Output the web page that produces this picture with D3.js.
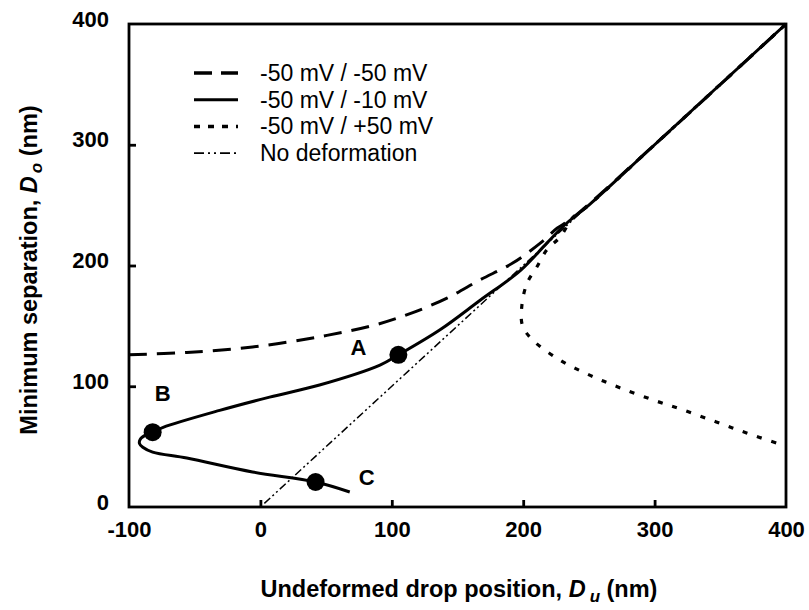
<!DOCTYPE html>
<html>
<head>
<meta charset="utf-8">
<script src="https://cdn.jsdelivr.net/npm/d3@7"></script>
<style>
  body { margin: 0; background: #fff; }
  svg { display: block; font-family: "Liberation Sans", Arial, sans-serif; }
</style>
</head>
<body>
<svg id="chart" width="809" height="610"></svg>
<script>
// Data
var xTicks = [-100, 0, 100, 200, 300, 400];
var yTicks = [0, 100, 200, 300, 400];
var legendNames = ["-50 mV / -50 mV", "-50 mV / -10 mV", "-50 mV / +50 mV", "No deformation"];

// -50 mV / -50 mV (dashed)
var dashedDu = [-100, -56, -6, 45, 88, 116, 142, 167, 192, 213, 226, 236, 300, 400];
var dashedD0 = [126, 128, 132.5, 141, 151, 161, 173, 188, 202, 218.5, 231, 238, 300, 400];

// -50 mV / -10 mV (solid)
var solidDu = [400, 300, 250, 233, 218, 198, 167, 137, 105, 91, 45, 7, -31, -74, -82, -87.5, -91.5, -92, -89.5, -82, -56, -6, 42, 68];
var solidD0 = [400, 300, 250, 235, 218.5, 196, 171, 147, 126, 117.5, 101, 91, 80, 66, 62, 59.5, 56, 52.5, 49.5, 45.5, 40.5, 29, 20.7, 12.4];

// -50 mV / +50 mV (dotted)
var dottedDu = [400, 300, 250, 238, 228, 218, 210.5, 203, 199, 199.5, 207.5, 228, 251, 274, 299, 322, 347, 370, 395, 400];
var dottedD0 = [400, 300, 250, 240, 223.5, 213, 199, 185.5, 167, 150, 138, 121.7, 109, 98.6, 88.6, 80.3, 70.4, 61.3, 52.2, 50.5];

// No deformation (dash-dot-dot)
var noDefDu = [3, 400];
var noDefD0 = [3, 400];

// Marked points A, B, C
var markLabels = ["A", "B", "C"];
var markDu = [105, -82, 42];
var markD0 = [126, 62, 20.7];

var svg = d3.select("#chart");
var mLeft = 129, mRight = 786, mTop = 24, mBottom = 507;

var x = d3.scaleLinear().domain([-100, 400]).range([mLeft, mRight]);
var y = d3.scaleLinear().domain([0, 400]).range([mBottom, mTop]);

function pts(a, b) { return a.map(function(d, i) { return [d, b[i]]; }); }

var line = d3.line()
  .x(function(d) { return x(d[0]); })
  .y(function(d) { return y(d[1]); })
  .curve(d3.curveCatmullRom.alpha(0.5));

var g = svg.append("g");

// no deformation
g.append("path")
  .attr("d", line(pts(noDefDu, noDefD0)))
  .attr("fill", "none").attr("stroke", "#000").attr("stroke-width", 1.5)
  .attr("stroke-dasharray", "8,3,2,3,2,3");

// dotted
g.append("path")
  .attr("d", line(pts(dottedDu, dottedD0)))
  .attr("fill", "none").attr("stroke", "#000").attr("stroke-width", 3.2)
  .attr("stroke-dasharray", "5,10");

// dashed
g.append("path")
  .attr("d", line(pts(dashedDu, dashedD0)))
  .attr("fill", "none").attr("stroke", "#000").attr("stroke-width", 3)
  .attr("stroke-dasharray", "18,10");

// solid
g.append("path")
  .attr("d", line(pts(solidDu, solidD0)))
  .attr("fill", "none").attr("stroke", "#000").attr("stroke-width", 3)
  .attr("stroke-linejoin", "round");

// markers
g.selectAll("circle.mark")
  .data(markDu)
  .enter().append("circle")
  .attr("class", "mark")
  .attr("cx", function(d) { return x(d); })
  .attr("cy", function(d, i) { return y(markD0[i]); })
  .attr("r", 9).attr("fill", "#000");

var labelOffsets = [[-40, -8], [10, -39], [51, -5]];
g.selectAll("text.mark")
  .data(markLabels)
  .enter().append("text")
  .attr("class", "mark")
  .attr("x", function(d, i) { return x(markDu[i]) + labelOffsets[i][0]; })
  .attr("y", function(d, i) { return y(markD0[i]) + labelOffsets[i][1]; })
  .attr("dy", "0.35em")
  .attr("text-anchor", "middle")
  .attr("font-weight", "bold").attr("font-size", 22)
  .text(function(d) { return d; });

// frame
svg.append("rect")
  .attr("x", mLeft).attr("y", mTop)
  .attr("width", mRight - mLeft).attr("height", mBottom - mTop)
  .attr("fill", "none").attr("stroke", "#000").attr("stroke-width", 2.8);

// axes
var fmt = function(d) { return String(d); };
var xAxis = d3.axisBottom(x).tickValues(xTicks).tickSize(-7).tickPadding(14).tickFormat(fmt);
var yAxis = d3.axisLeft(y).tickValues(yTicks).tickSize(-7).tickPadding(20).tickFormat(fmt);

var xg = svg.append("g").attr("transform", "translate(0," + mBottom + ")").call(xAxis);
var yg = svg.append("g").attr("transform", "translate(" + mLeft + ",0)").call(yAxis);

[xg, yg].forEach(function(a) {
  a.select(".domain").remove();
  a.selectAll("line").attr("stroke", "#000").attr("stroke-width", 2.8);
  a.selectAll("text")
    .attr("font-family", "'Liberation Sans', Arial, sans-serif")
    .attr("font-size", 22).attr("font-weight", "bold").attr("fill", "#000");
});
yg.selectAll("text").attr("dy", "0.1em");
xg.selectAll(".tick").filter(function(d) { return d === -100 || d === 400; }).select("line").remove();
yg.selectAll(".tick").filter(function(d) { return d === 0 || d === 400; }).select("line").remove();

// axis titles
var xt = svg.append("text")
  .attr("x", 459).attr("y", 597)
  .attr("text-anchor", "middle")
  .attr("font-size", 23.5).attr("font-weight", "bold");
xt.append("tspan").text("Undeformed drop position, ");
xt.append("tspan").attr("font-style", "italic").text("D");
xt.append("tspan").attr("font-size", 17).attr("dy", 5).attr("dx", 4).attr("font-style", "italic").text("u");
xt.append("tspan").attr("dy", -5).text(" (nm)");

var yt = svg.append("text")
  .attr("transform", "translate(37,270) rotate(-90)")
  .attr("text-anchor", "middle")
  .attr("font-size", 23.5).attr("font-weight", "bold");
yt.append("tspan").text("Minimum separation, ");
yt.append("tspan").attr("font-style", "italic").text("D");
yt.append("tspan").attr("font-size", 17).attr("dy", 5).attr("dx", 3).attr("font-style", "italic").text("o");
yt.append("tspan").attr("dy", -5).text(" (nm)");

// legend
var legendDash = ["18,9", null, "6,8", "10,4,2,4,2,4"];
var legendWidth = [3.5, 3, 3.5, 1.6];
var legend = svg.append("g");
legendNames.forEach(function(name, i) {
  var ly = 73 + i * 26.7;
  legend.append("line")
    .attr("x1", 194).attr("x2", 238).attr("y1", ly).attr("y2", ly)
    .attr("stroke", "#000").attr("stroke-width", legendWidth[i])
    .attr("stroke-dasharray", legendDash[i]);
  legend.append("text")
    .attr("x", 260).attr("y", ly).attr("dy", "0.35em")
    .attr("font-size", 23).text(name);
});
</script>
</body>
</html>
